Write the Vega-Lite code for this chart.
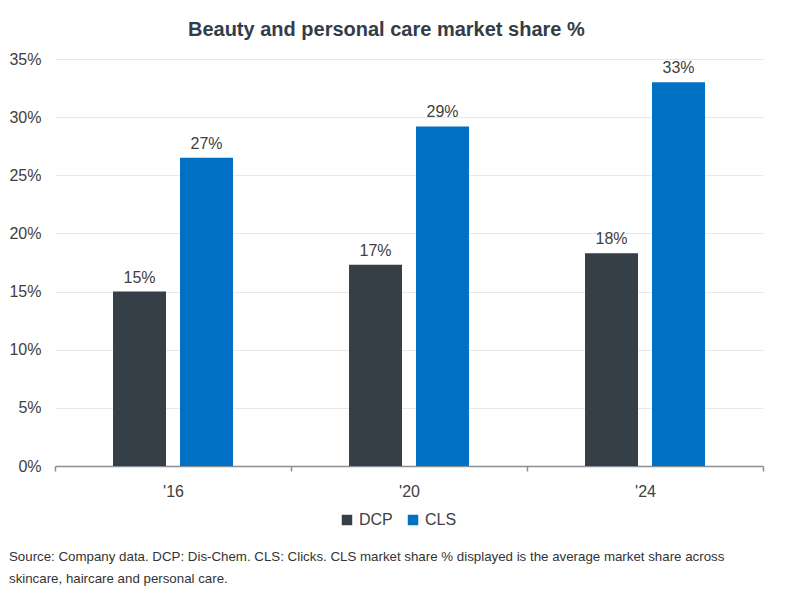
{
  "$schema": "https://vega.github.io/schema/vega-lite/v6.json",
  "background": "white",
  "padding": {"left": 8, "right": 36, "top": 20, "bottom": 10},
  "title": {
    "text": ["Source: Company data. DCP: Dis-Chem. CLS: Clicks. CLS market share % displayed is the average market share across", "skincare, haircare and personal care."],
    "orient": "bottom",
    "anchor": "start",
    "frame": "bounds",
    "fontSize": 13.3,
    "fontWeight": "normal",
    "color": "#333333",
    "lineHeight": 22,
    "offset": 22
  },
  "config": {
    "view": {"stroke": null},
    "font": "Liberation Sans, Arial",
    "text": {"font": "Liberation Sans, Arial"}
  },
  "vconcat": [
    {
      "width": 708,
      "height": 407,
      "title": {
        "text": "Beauty and personal care market share %",
        "fontSize": 20,
        "fontWeight": "bold",
        "color": "#333d47",
        "anchor": "middle",
        "frame": "bounds",
        "offset": 11
      },
      "data": {
        "values": [
          {"year": "'16", "series": "DCP", "value": 15.0, "label": "15%"},
          {"year": "'16", "series": "CLS", "value": 26.5, "label": "27%"},
          {"year": "'20", "series": "DCP", "value": 17.3, "label": "17%"},
          {"year": "'20", "series": "CLS", "value": 29.2, "label": "29%"},
          {"year": "'24", "series": "DCP", "value": 18.3, "label": "18%"},
          {"year": "'24", "series": "CLS", "value": 33.0, "label": "33%"}
        ]
      },
      "encoding": {
        "x": {
          "field": "year",
          "type": "nominal",
          "sort": null,
          "scale": {"paddingInner": 0, "paddingOuter": 0},
          "axis": {
            "title": null,
            "labelAngle": 0,
            "labelFontSize": 16,
            "labelColor": "#404040",
            "labelPadding": 12,
            "domainColor": "#8a8f96",
            "domainWidth": 1.5,
            "tickColor": "#8a8f96",
            "tickWidth": 1.5,
            "tickSize": 5,
            "tickBand": "extent",
            "grid": false
          }
        },
        "xOffset": {
          "field": "series",
          "type": "nominal",
          "sort": ["DCP", "CLS"],
          "scale": {"paddingInner": 0.209, "paddingOuter": 0.866}
        },
        "y": {
          "field": "value",
          "type": "quantitative",
          "scale": {"domain": [0, 35]},
          "axis": {
            "title": null,
            "values": [0, 5, 10, 15, 20, 25, 30, 35],
            "labelExpr": "datum.value + '%'",
            "labelFontSize": 16,
            "labelColor": "#404040",
            "labelPadding": 14,
            "domain": false,
            "ticks": false,
            "gridColor": "#e8e8e6",
            "gridWidth": 1.2
          }
        }
      },
      "layer": [
        {
          "mark": {"type": "bar"},
          "encoding": {
            "color": {
              "field": "series",
              "type": "nominal",
              "sort": ["DCP", "CLS"],
              "scale": {"domain": ["DCP", "CLS"], "range": ["#363e48", "#0071c5"]},
              "legend": {
                "title": null,
                "orient": "none",
                "legendX": 284,
                "legendY": 453,
                "direction": "horizontal",
                "symbolType": "square",
                "symbolSize": 110,
                "symbolStrokeWidth": 0,
                "labelFontSize": 16,
                "labelColor": "#404040",
                "columnPadding": 12,
                "labelOffset": 4
              }
            }
          }
        },
        {
          "mark": {"type": "text", "baseline": "bottom", "dy": -6, "fontSize": 16, "color": "#404040"},
          "encoding": {
            "text": {"field": "label"}
          }
        }
      ]
    }
  ]
}
